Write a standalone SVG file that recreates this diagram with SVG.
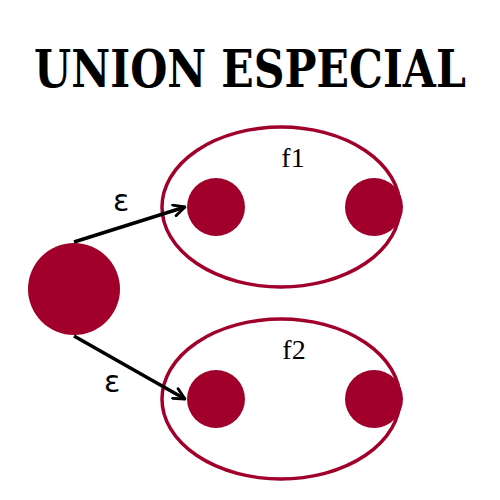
<svg xmlns="http://www.w3.org/2000/svg" width="500" height="500" viewBox="0 0 500 500">
<style>
.title{font-family:"DejaVu Serif","Liberation Serif",serif;font-weight:bold;font-size:52px;fill:#000}
.set{fill:none;stroke:#A0002A;stroke-width:3.5}
.st{fill:#A0002A}
.lbl{font-family:"DejaVu Sans","Liberation Sans",sans-serif;font-size:30px;fill:#000}
.fl{font-family:"Liberation Serif",serif;font-size:28px;fill:#000}
.edge{stroke:#000;stroke-width:3.5;fill:none;marker-end:url(#arr)}
</style>
<defs>
<marker id="arr" viewBox="0 0 10 10" refX="9" refY="5" markerWidth="4" markerHeight="4" orient="auto" markerUnits="strokeWidth">
<path d="M1,1 L9,5 L1,9" fill="none" stroke="#000" stroke-width="2" stroke-linecap="round" stroke-linejoin="round"/>
</marker>
</defs>
<rect width="500" height="500" fill="#fff"/>
<text class="title" transform="translate(250,87) scale(0.82,1)" x="0" y="0" text-anchor="middle">UNION ESPECIAL</text>
<g id="f1">
<ellipse class="set" cx="281" cy="207" rx="119" ry="80"/>
<text class="fl" x="293" y="167" text-anchor="middle">f1</text>
<circle id="f1a" class="st" cx="216" cy="207" r="29"/>
<circle id="f1b" class="st" cx="374" cy="207" r="29"/>
</g>
<g id="f2">
<ellipse class="set" cx="281" cy="399" rx="119" ry="80"/>
<text class="fl" x="294" y="359" text-anchor="middle">f2</text>
<circle id="f2a" class="st" cx="216" cy="399" r="29"/>
<circle id="f2b" class="st" cx="374" cy="399" r="29"/>
</g>
<g id="start">
<circle class="st" cx="74" cy="289" r="46"/>
</g>
<g id="connectors">
<line class="edge" x1="74" y1="242" x2="185" y2="207"/>
<line class="edge" x1="74" y1="336" x2="185" y2="399"/>
<text class="lbl" x="121" y="211" text-anchor="middle">ε</text>
<text class="lbl" x="112" y="392" text-anchor="middle">ε</text>
</g>
</svg>
